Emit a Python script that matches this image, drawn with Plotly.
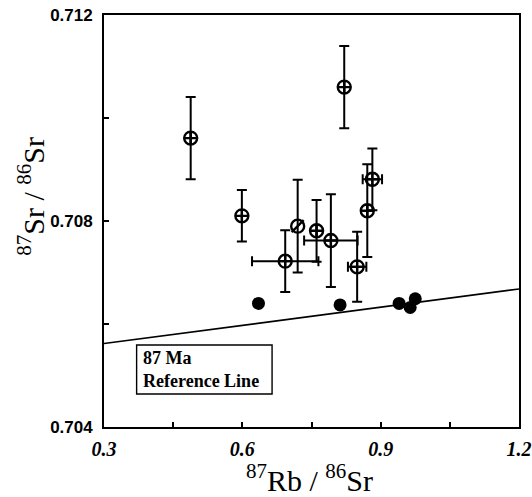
import plotly.graph_objects as go

# Open symbols (measured samples) with error bars
open_x = [0.488, 0.821, 0.599, 0.761, 0.792, 0.882, 0.871, 0.693, 0.849]
open_y = [0.70961, 0.71060, 0.70810, 0.70781, 0.70762, 0.70881, 0.70820, 0.70722, 0.70711]
open_yerr = [0.0008, 0.0008, 0.0005, 0.0006, 0.0009, 0.0006, 0.0009, 0.0006, 0.00068]
open_xerr = [0.0, 0.0, 0.0, 0.0, 0.058, 0.021, 0.0, 0.072, 0.02]

# Slashed circle sample
slash_x = [0.720]
slash_y = [0.70790]
slash_yerr = [0.0009]

# Filled circles
fill_x = [0.635, 0.812, 0.940, 0.964, 0.975]
fill_y = [0.70640, 0.70637, 0.70640, 0.70632, 0.70649]

# 87 Ma reference line
line_x = [0.3, 1.2]
line_y = [0.70562, 0.70668]

serif = "Liberation Serif"
sans = "Liberation Sans"

fig = go.Figure()
fig.add_trace(go.Scatter(x=line_x, y=line_y, mode="lines",
                         line=dict(color="black", width=1.6), showlegend=False))
fig.add_trace(go.Scatter(
    x=open_x, y=open_y, mode="markers",
    marker=dict(symbol="circle-cross-open", size=13, color="black",
                line=dict(color="black", width=2.4)),
    error_y=dict(type="data", array=open_yerr, visible=True, color="black",
                 thickness=2, width=5),
    error_x=dict(type="data", array=open_xerr, visible=True, color="black",
                 thickness=2, width=5),
    showlegend=False))
fig.add_trace(go.Scatter(
    x=slash_x, y=slash_y, mode="markers",
    marker=dict(symbol="circle-open", size=13, color="black",
                line=dict(color="black", width=2.4)),
    error_y=dict(type="data", array=slash_yerr, visible=True, color="black",
                 thickness=2, width=5),
    showlegend=False))
fig.add_trace(go.Scatter(
    x=slash_x, y=slash_y, mode="markers",
    marker=dict(symbol="line-ne-open", size=12, color="black",
                line=dict(color="black", width=2.4)),
    showlegend=False))
fig.add_trace(go.Scatter(
    x=fill_x, y=fill_y, mode="markers",
    marker=dict(symbol="circle", size=13, color="black"),
    showlegend=False))

fig.add_shape(type="rect", xref="paper", yref="paper",
              x0=0.0786, x1=0.405, y0=0.0801, y1=0.1990,
              line=dict(color="black", width=1.4), fillcolor="white")
fig.add_annotation(xref="paper", yref="paper", x=0.088, y=0.139,
                   text="<b>87 Ma<br>Reference Line</b>", showarrow=False,
                   xanchor="left", yanchor="middle", align="left",
                   font=dict(family=serif, size=18, color="black"))

fig.add_annotation(xref="paper", yref="paper", x=0.496, y=-0.124,
                   text="<sup>87</sup>Rb / <sup>86</sup>Sr", showarrow=False,
                   xanchor="center", yanchor="middle",
                   font=dict(family=serif, size=30, color="black"))
fig.add_annotation(xref="paper", yref="paper", x=-0.175, y=0.56,
                   text="<sup>87</sup>Sr / <sup>86</sup>Sr", showarrow=False,
                   textangle=-90, xanchor="center", yanchor="middle",
                   font=dict(family=serif, size=30, color="black"))

fig.update_layout(
    width=532, height=497,
    margin=dict(l=104, r=13, t=15, b=70, autoexpand=False),
    paper_bgcolor="white", plot_bgcolor="white",
    xaxis=dict(range=[0.3, 1.2], showgrid=False, zeroline=False, automargin=False,
               showline=True, mirror=True, linecolor="black", linewidth=1.8,
               ticks="inside", ticklen=5, tickwidth=1.5, tickcolor="black",
               tickmode="linear", tick0=0.3, dtick=0.3, tickformat=".1f",
               minor=dict(dtick=0.15, tick0=0.3, ticks="inside", ticklen=5,
                          tickwidth=1.5, tickcolor="black", showgrid=False),
               ticklabelstandoff=3,
               tickfont=dict(family=serif, size=20, color="black",
                             style="italic", weight="bold")),
    yaxis=dict(range=[0.704, 0.712], showgrid=False, zeroline=False, automargin=False,
               showline=True, mirror=True, linecolor="black", linewidth=1.8,
               ticks="inside", ticklen=5, tickwidth=1.5, tickcolor="black",
               tickmode="linear", tick0=0.704, dtick=0.004, tickformat=".3f",
               minor=dict(dtick=0.002, tick0=0.704, ticks="inside", ticklen=5,
                          tickwidth=1.5, tickcolor="black", showgrid=False),
               ticklabelstandoff=6,
               tickfont=dict(family=sans, size=17, color="black", weight="bold")),
)

fig.write_html("out.html")
